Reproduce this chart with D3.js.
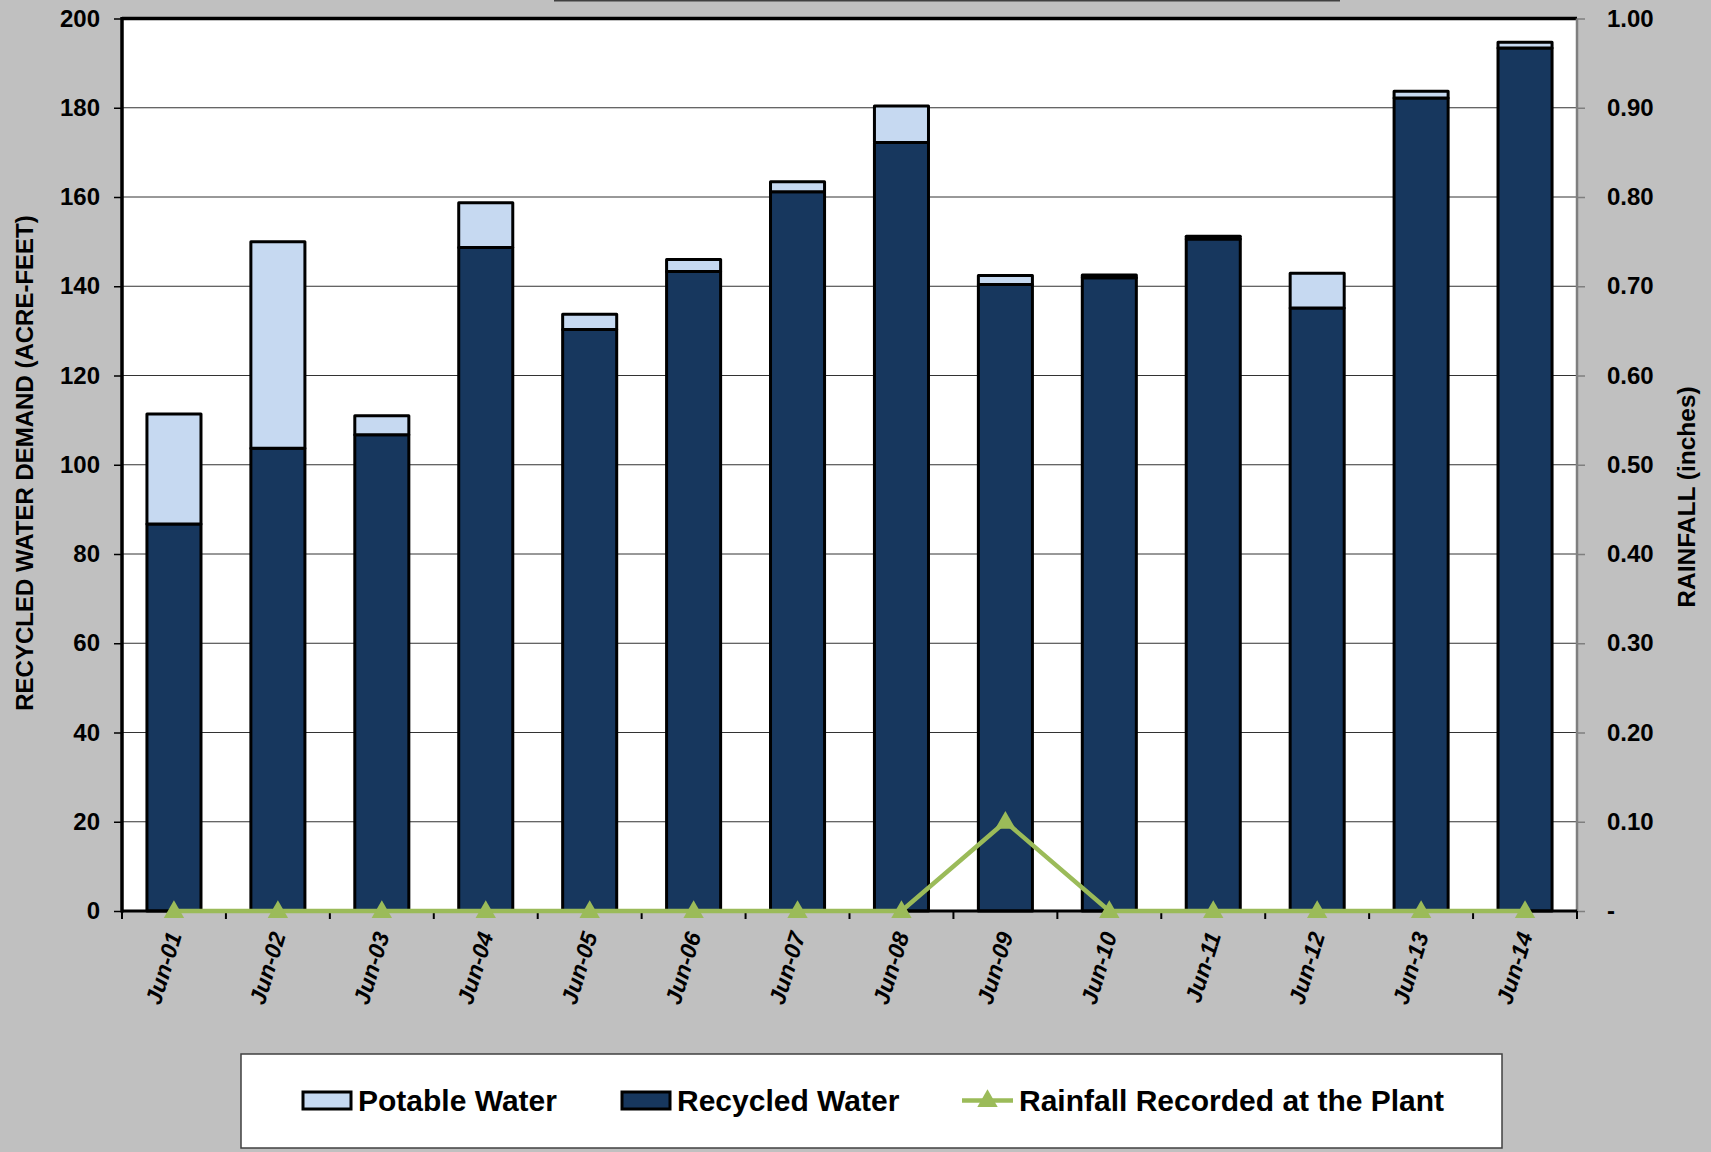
<!DOCTYPE html>
<html><head><meta charset="utf-8">
<script src="https://cdn.jsdelivr.net/npm/d3@7"></script>
<style>
html,body{margin:0;padding:0;background:#c0c0c0;}
svg{display:block;}
text{font-family:"Liberation Sans",Arial,sans-serif;font-weight:bold;fill:#000;}
</style></head>
<body>
<svg id="chart" width="1711" height="1152"></svg>
<script>
// ---- data ----
const categories = ["Jun-01","Jun-02","Jun-03","Jun-04","Jun-05","Jun-06","Jun-07","Jun-08","Jun-09","Jun-10","Jun-11","Jun-12","Jun-13","Jun-14"];
const recycledWater = [86.7,103.7,106.7,148.7,130.3,143.3,161.2,172.2,140.4,141.9,150.6,135.1,182.2,193.4];
const potableWater  = [24.7,46.3,4.3,10.0,3.4,2.7,2.2,8.2,2.0,0.6,0.6,7.8,1.5,1.3];
const rainfall      = [0,0,0,0,0,0,0,0,0.10,0,0,0,0,0];
const leftTicks  = [0,20,40,60,80,100,120,140,160,180,200];
const rightTicks = [0,0.1,0.2,0.3,0.4,0.5,0.6,0.7,0.8,0.9,1.0];
const seriesNames = ["Potable Water","Recycled Water","Rainfall Recorded at the Plant"];

// ---- layout ----
const C = {navy:"#17375E", light:"#C6D9F1", green:"#9BBB59"};
const PL=122, PR=1577, PT=18.5, PB=911;
const svg = d3.select("#chart");

const x = d3.scaleBand().domain(categories).range([PL,PR]).paddingInner(0.48).paddingOuter(0.24);
const yL = d3.scaleLinear().domain([0,200]).range([PB,PT]);
const yR = d3.scaleLinear().domain([0,1]).range([PB,PT]);

// title box remnant at top
svg.append("line").attr("x1",554).attr("x2",1340).attr("y1",0.5).attr("y2",0.5)
  .attr("stroke","#404040").attr("stroke-width",2);

// plot area
svg.append("rect").attr("x",PL).attr("y",PT).attr("width",PR-PL).attr("height",PB-PT).attr("fill","#fff");

// gridlines
svg.append("g").selectAll("line").data(leftTicks.filter(d=>d>0&&d<200)).join("line")
  .attr("x1",PL).attr("x2",PR).attr("y1",d=>yL(d)).attr("y2",d=>yL(d))
  .attr("stroke","#333").attr("stroke-width",1);

// stacked bars
const rows = categories.map((c,i)=>({cat:c, recycled:recycledWater[i], potable:potableWater[i]}));
const stack = d3.stack().keys(["recycled","potable"])(rows);
const fills = {recycled:C.navy, potable:C.light};
svg.append("g").selectAll("g").data(stack).join("g")
  .attr("fill",s=>fills[s.key])
  .selectAll("rect").data(s=>s).join("rect")
  .attr("x",d=>x(d.data.cat)).attr("width",x.bandwidth())
  .attr("y",d=>yL(d[1])).attr("height",d=>yL(d[0])-yL(d[1]))
  .attr("stroke","#000").attr("stroke-width",3).attr("stroke-linejoin","round");

// left axis
const axL = svg.append("g").attr("transform",`translate(${PL},0)`)
  .call(d3.axisLeft(yL).tickValues(leftTicks).tickSize(8).tickPadding(14).tickFormat(d3.format("d")));
axL.select(".domain").remove();
axL.selectAll(".tick line").attr("stroke","#000").attr("stroke-width",1.5);
axL.selectAll(".tick text").style("font-size","24px").attr("font-family",null);
svg.append("line").attr("x1",PL).attr("x2",PL).attr("y1",PT-1.5).attr("y2",PB+1.5).attr("stroke","#000").attr("stroke-width",3.5);
// top border
svg.append("line").attr("x1",PL).attr("x2",PR).attr("y1",PT).attr("y2",PT).attr("stroke","#000").attr("stroke-width",3.5);

// right axis
const axR = svg.append("g").attr("transform",`translate(${PR},0)`)
  .call(d3.axisRight(yR).tickValues(rightTicks).tickSize(8).tickPadding(22)
    .tickFormat(d=>d===0?"-":d3.format(".2f")(d)));
axR.select(".domain").attr("stroke","#7f7f7f").attr("stroke-width",2.5).attr("d",`M0,${PT}V${PB}`);
axR.selectAll(".tick line").attr("stroke","#7f7f7f").attr("stroke-width",1.5);
axR.selectAll(".tick text").style("font-size","24px").attr("font-family",null);

// bottom axis
const step = x.step();
const bounds = categories.map(c=>x(c)-step*x.paddingInner()/2).concat([PR]);
svg.append("line").attr("x1",PL).attr("x2",PR).attr("y1",PB).attr("y2",PB).attr("stroke","#000").attr("stroke-width",3);
svg.append("g").selectAll("line").data(bounds).join("line")
  .attr("x1",d=>d).attr("x2",d=>d).attr("y1",PB).attr("y2",PB+8)
  .attr("stroke","#000").attr("stroke-width",2);
svg.append("g").selectAll("text").data(categories).join("text")
  .attr("transform",c=>`translate(${x(c)+x.bandwidth()/2+8},${PB+24}) rotate(-73)`)
  .attr("text-anchor","end").style("font-size","23px").style("font-style","italic")
  .text(c=>c);

// rainfall line
const cx = c=>x(c)+x.bandwidth()/2;
const rainPts = categories.map((c,i)=>[cx(c), yR(rainfall[i])]);
svg.append("path").attr("d",d3.line()(rainPts)).attr("fill","none")
  .attr("stroke",C.green).attr("stroke-width",4.5).attr("stroke-linejoin","miter");
const tri = d3.symbol().type(d3.symbolTriangle).size(180);
svg.append("g").selectAll("path").data(rainPts).join("path")
  .attr("transform",d=>`translate(${d[0]},${d[1]+1})`).attr("d",tri()).attr("fill",C.green);

// axis titles
svg.append("text").attr("transform","translate(24,463) rotate(-90)")
  .attr("text-anchor","middle").attr("dominant-baseline","central").style("font-size","24px")
  .text("RECYCLED WATER DEMAND (ACRE-FEET)");
svg.append("text").attr("transform","translate(1686,497) rotate(-90)")
  .attr("text-anchor","middle").attr("dominant-baseline","central").style("font-size","24.5px")
  .text("RAINFALL (inches)");

// legend
const lg = svg.append("g");
lg.append("rect").attr("x",241).attr("y",1054).attr("width",1261).attr("height",94)
  .attr("fill","#fff").attr("stroke","#404040").attr("stroke-width",1.5);
const legendItems = [
  {name:seriesNames[0], type:"rect", fill:C.light, sx:303, tx:358},
  {name:seriesNames[1], type:"rect", fill:C.navy, sx:622, tx:677},
  {name:seriesNames[2], type:"line", fill:C.green, sx:962, tx:1019}
];
legendItems.forEach(it=>{
  if(it.type==="rect"){
    lg.append("rect").attr("x",it.sx).attr("y",1092).attr("width",48).attr("height",17)
      .attr("fill",it.fill).attr("stroke","#000").attr("stroke-width",3);
  } else {
    lg.append("line").attr("x1",it.sx).attr("x2",it.sx+51).attr("y1",1100.5).attr("y2",1100.5)
      .attr("stroke",it.fill).attr("stroke-width",4.5);
    lg.append("path").attr("transform",`translate(${it.sx+25.5},${1101})`).attr("d",tri()).attr("fill",it.fill);
  }
  lg.append("text").attr("x",it.tx).attr("y",1111).style("font-size","30px").text(it.name);
});
</script>
</body></html>
